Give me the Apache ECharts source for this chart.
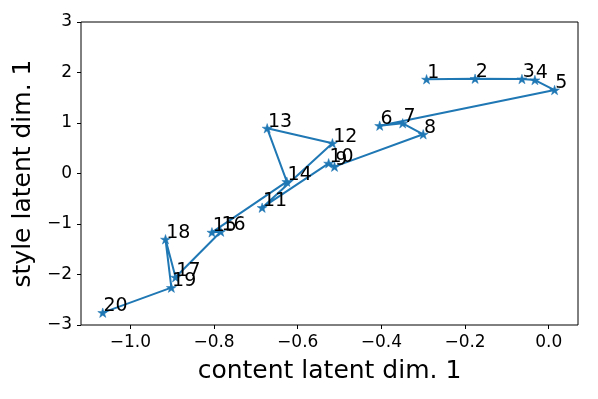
<!DOCTYPE html>
<html>
<head>
<meta charset="utf-8">
<script src="https://cdn.jsdelivr.net/npm/echarts@6/dist/echarts.min.js"></script>
<style>html,body{margin:0;padding:0;background:#fff;}#c{width:598px;height:399px;}</style>
</head>
<body>
<div id="c"></div>
<script>
const pointLabels = ['1','2','3','4','5','6','7','8','9','10','11','12','13','14','15','16','17','18','19','20'];
const contentDim = [-0.292,-0.176,-0.064,-0.033,0.014,-0.404,-0.349,-0.300,-0.512,-0.526,-0.685,-0.517,-0.673,-0.626,-0.805,-0.784,-0.892,-0.916,-0.902,-1.066];
const styleDim = [1.865,1.877,1.871,1.851,1.653,0.947,0.994,0.776,0.135,0.202,-0.677,0.598,0.895,-0.162,-1.165,-1.152,-2.055,-1.303,-2.261,-2.756];
const xTicks = [-1.0,-0.8,-0.6,-0.4,-0.2,0.0];
const yTicks = [-3,-2,-1,0,1,2,3];

const FONT = 'DejaVu Sans';
const STAR = 'path://M100,0L122.45,69.1L195.11,69.1L136.33,111.8L158.78,180.9L100,138.2L41.22,180.9L63.67,111.8L4.89,69.1L77.55,69.1Z';
const fmt = (v, d) => { let s = Number(v).toFixed(d); if (parseFloat(s) === 0) s = (0).toFixed(d); return s.replace('-', '\u2212'); };

const chart = echarts.init(document.getElementById('c'), null, {renderer: 'canvas'});
const data = contentDim.map((x, i) => [x, styleDim[i], pointLabels[i]]);
chart.setOption({
  animation: false,
  backgroundColor: '#fff',
  grid: {left: 81, top: 22, right: 20, bottom: 74, show: true, borderColor: '#000', borderWidth: 1, backgroundColor: 'transparent'},
  xAxis: {
    type: 'value', min: -1.118, max: 0.070,
    name: 'content latent dim. 1', nameLocation: 'middle', nameGap: 34,
    nameTextStyle: {fontFamily: FONT, fontSize: 25, color: '#000'},
    axisLine: {show: false, onZero: false},
    axisTick: {show: true, inside: false, length: 4, lineStyle: {color: '#000', width: 1}, customValues: xTicks},
    axisLabel: {fontFamily: FONT, fontSize: 17, color: '#000', margin: 9, customValues: xTicks, formatter: v => fmt(v, 1)},
    splitLine: {show: false}
  },
  yAxis: {
    type: 'value', min: -3, max: 3, interval: 1,
    name: 'style latent dim. 1', nameLocation: 'middle', nameGap: 43, nameRotate: 90,
    nameTextStyle: {fontFamily: FONT, fontSize: 25, color: '#000'},
    axisLine: {show: false, onZero: false},
    axisTick: {show: true, inside: false, length: 4, lineStyle: {color: '#000', width: 1}, customValues: yTicks},
    axisLabel: {fontFamily: FONT, fontSize: 17, color: '#000', margin: 9, customValues: yTicks, formatter: v => fmt(v, 0)},
    splitLine: {show: false}
  },
  series: [{
    type: 'line',
    data: data,
    lineStyle: {color: '#1f77b4', width: 2},
    itemStyle: {color: '#1f77b4', borderColor: '#1f77b4', borderWidth: 0.5},
    symbol: STAR,
    symbolSize: 10,
    symbolKeepAspect: true,
    showAllSymbol: true,
    label: {
      show: true,
      position: [6, 8],
      align: 'left',
      verticalAlign: 'bottom',
      fontFamily: FONT, fontSize: 19, color: '#000',
      formatter: p => p.data[2]
    },
    labelLayout: {hideOverlap: false},
    z: 3
  }]
});
</script>
</body>
</html>
